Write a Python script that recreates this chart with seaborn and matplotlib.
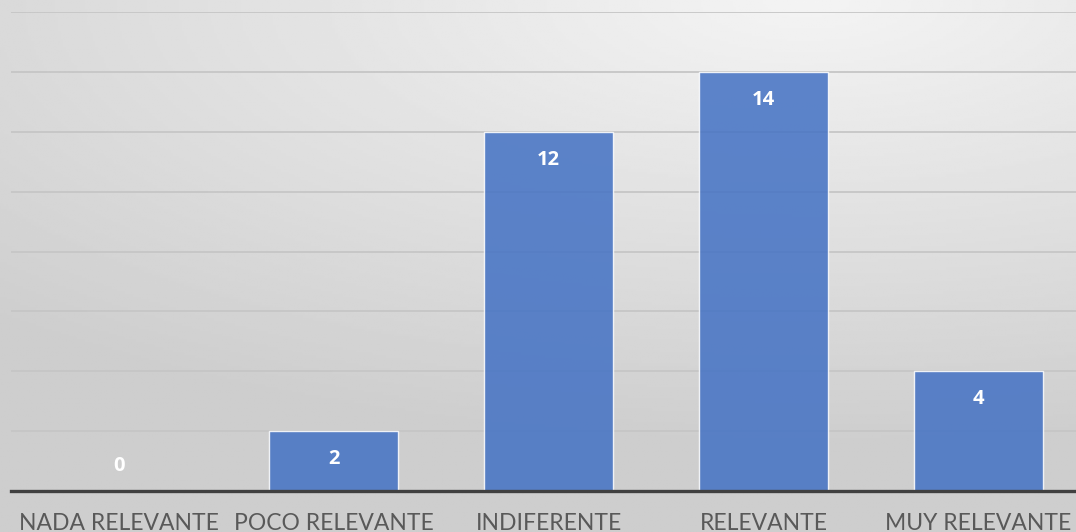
import numpy as np
import pandas as pd
import matplotlib
matplotlib.use('Agg')
import matplotlib.pyplot as plt
import seaborn as sns

# data
categorias = ['NADA RELEVANTE', 'POCO RELEVANTE', 'INDIFERENTE', 'RELEVANTE', 'MUY RELEVANTE']
valores = [0, 2, 12, 14, 4]

sns.set_style('white')
plt.rcParams['font.family'] = ['Lato', 'DejaVu Sans']

df = pd.DataFrame({'categoria': categorias, 'valor': valores})

fig = plt.figure(figsize=(10.76, 5.32), dpi=100)

# gray gradient background (light top right, darker bottom left)
bg = fig.add_axes([0, 0, 1, 1], zorder=0)
yy, xx = np.mgrid[0:1:200j, 0:1:400j]
dist = np.sqrt(((xx - 0.75) * 1.0) ** 2 + ((yy - 0.0) * 1.3) ** 2)
shade = 0.955 - 0.15 * np.clip(dist / 1.1, 0, 1)
bg.imshow(shade, cmap='gray', vmin=0, vmax=1, aspect='auto', extent=[0, 1, 1, 0])
bg.axis('off')

# plot area, running a bit past the right edge like the original
ax = fig.add_axes([11 / 1076, 41 / 532, 1075 / 1076, 479 / 532], zorder=1)
ax.patch.set_alpha(0)

sns.barplot(data=df, x='categoria', y='valor', color='#4472C4', width=0.6,
            saturation=1, alpha=0.86, edgecolor=(1, 1, 1, 0.3), linewidth=1,
            ax=ax, zorder=3)

ax.set_ylim(0, 16)
ax.set_yticks(range(0, 17, 2))
ax.yaxis.grid(True, color='#c6c6c6', linewidth=1.3, zorder=0)
ax.set_axisbelow(True)
ax.tick_params(axis='y', left=False, labelleft=False)
ax.tick_params(axis='x', bottom=False, labelsize=16.5, labelcolor='#595959', pad=12)
ax.set_xlabel('')
ax.set_ylabel('')
for s in ['top', 'right', 'left']:
    ax.spines[s].set_visible(False)
ax.spines['bottom'].set_color('#404040')
ax.spines['bottom'].set_linewidth(2.4)
ax.spines['bottom'].set_zorder(5)

for i, v in enumerate(valores):
    off = -20 if v > 0 else 18
    ax.annotate(str(v), (i, v), xytext=(0, off), textcoords='offset points',
                ha='center', va='center', color='white', fontsize=14.5,
                fontweight='bold', family=['Open Sans', 'DejaVu Sans'], zorder=6)

fig.savefig('out.png', dpi=100)
